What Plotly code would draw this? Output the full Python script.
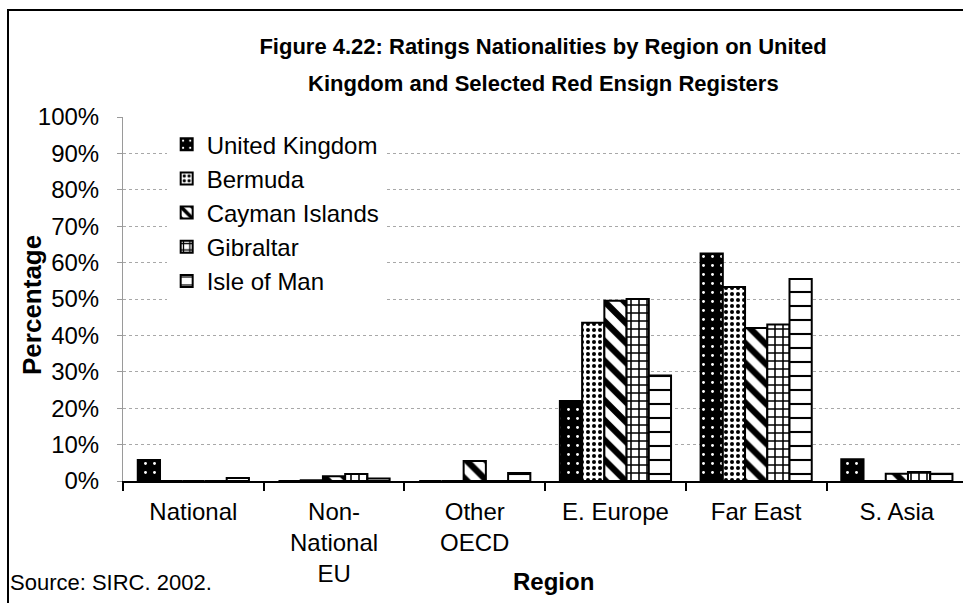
import plotly.graph_objects as go

# Regions (x categories) and share of ratings per register, in percent
regions = ["National", "Non-<br>National<br>EU", "Other<br>OECD", "E. Europe", "Far East", "S. Asia"]
united_kingdom = [5.8, 0.0, 0.0, 22.0, 62.5, 6.0]
bermuda = [0.0, 0.2, 0.0, 43.5, 53.3, 0.0]
cayman_islands = [0.0, 1.3, 5.5, 49.5, 42.0, 2.0]
gibraltar = [0.0, 1.9, 0.0, 50.0, 43.0, 2.5]
isle_of_man = [0.8, 0.7, 2.2, 29.0, 55.5, 2.0]
y_ticks = list(range(0, 101, 10))

TXT = "Liberation Sans, Arial, sans-serif"

series = [
    ("United Kingdom", united_kingdom, dict(shape=".", bgcolor="black", fgcolor="white", size=9, solidity=0.08)),
    ("Bermuda", bermuda, dict(shape=".", bgcolor="white", fgcolor="black", size=6, solidity=0.35)),
    ("Cayman Islands", cayman_islands, dict(shape="\\", bgcolor="white", fgcolor="black", size=14, solidity=0.45)),
    ("Gibraltar", gibraltar, dict(shape="+", bgcolor="white", fgcolor="black", size=8, solidity=0.35)),
    ("Isle of Man", isle_of_man, dict(shape="-", bgcolor="white", fgcolor="black", size=14, solidity=0.15)),
]

fig = go.Figure()
for name, vals, pat in series:
    fig.add_trace(go.Bar(
        name=name, x=regions, y=vals,
        marker=dict(color="white", pattern=dict(fillmode="replace", **pat),
                    line=dict(color="black", width=2)),
    ))

# helpers: pixel position -> paper fraction (plot area x 123..963, y 117..481)
def px(xp):
    return (xp - 123) / 840


def py(yp):
    return (481 - yp) / 364


fig.update_layout(
    width=963, height=603,
    margin=dict(l=123, r=0, t=117, b=122),
    paper_bgcolor="white", plot_bgcolor="white",
    barmode="group", bargap=0.21, bargroupgap=0,
    font=dict(family=TXT, size=24, color="black"),
    title=dict(
        text="<b>Figure 4.22: Ratings Nationalities by Region on United</b>",
        font=dict(family=TXT, size=22, color="black"),
        x=543 / 963, xanchor="center", y=1 - 46 / 603, yanchor="middle",
    ),
    legend=dict(
        x=0.052, y=0.986, xanchor="left", yanchor="top",
        bgcolor="white", borderwidth=0,
        font=dict(family=TXT, size=24, color="black"),
    ),
    xaxis=dict(
        range=[-0.5, 5.47], showline=True, linecolor="black", linewidth=2,
        ticks="outside", tickson="boundaries", ticklen=8, tickcolor="black", tickwidth=1.5,
        ticklabelstandoff=8,
        tickfont=dict(family=TXT, size=24), showgrid=False,
    ),
    yaxis=dict(
        range=[0, 100], tickvals=y_ticks, ticktext=[f"{v}%" for v in y_ticks],
        showline=True, linecolor="#9a9a9a", linewidth=1,
        ticks="outside", ticklen=5, tickcolor="#9a9a9a", ticklabelstandoff=13,
        showgrid=True, gridcolor="#a8a8a8", griddash="dot", gridwidth=1,
        zeroline=False, tickfont=dict(family=TXT, size=24),
    ),
    annotations=[
        dict(text="<b>Kingdom and Selected Red Ensign Registers</b>", xref="paper", yref="paper",
             x=px(543), y=py(83), xanchor="center", yanchor="middle",
             showarrow=False, font=dict(family=TXT, size=22)),
        dict(text="<b>Percentage</b>", xref="paper", yref="paper", textangle=-90,
             x=px(32), y=py(305), xanchor="center", yanchor="middle",
             showarrow=False, font=dict(family=TXT, size=26)),
        dict(text="<b>Region</b>", xref="paper", yref="paper",
             x=px(553), y=py(581), xanchor="center", yanchor="middle",
             showarrow=False, font=dict(family=TXT, size=24)),
        dict(text="Source: SIRC. 2002.", xref="paper", yref="paper",
             x=px(8), y=py(582), xanchor="left", yanchor="middle",
             showarrow=False, font=dict(family=TXT, size=22)),
    ],
    shapes=[
        dict(type="path", xref="paper", yref="paper",
             path=f"M {px(8)},{py(640)} L {px(8)},{py(10)} L 1.1,{py(10)}",
             line=dict(color="black", width=2)),
    ],
)

fig.write_html("out.html")
